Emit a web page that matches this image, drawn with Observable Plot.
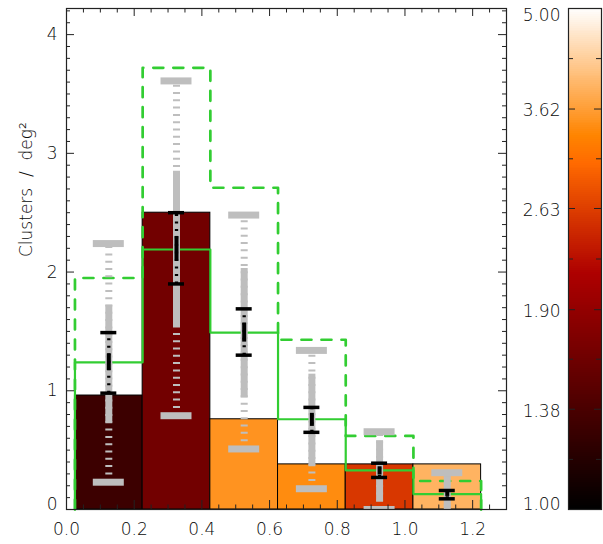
<!DOCTYPE html>
<html><head><meta charset="utf-8">
<script src="https://cdn.jsdelivr.net/npm/d3@7"></script>
<script src="https://cdn.jsdelivr.net/npm/@observablehq/plot@0.6"></script>
<style>
body{margin:0;background:#fff;}
#wrap{display:flex;width:603px;height:544px;}
</style></head><body><div id="wrap"></div>
<script>
// ---- data ----
const binStart  = [0.025, 0.225, 0.425, 0.625, 0.825, 1.025];
const binEnd    = [0.225, 0.425, 0.625, 0.825, 1.025, 1.225];
const binCenter = [0.125, 0.325, 0.525, 0.725, 0.925, 1.125];
const barHeights     = [0.96, 2.50, 0.76, 0.38, 0.38, 0.38];
const barColorValues = [1.30, 1.64, 3.49, 3.40, 2.56, 3.88];
const solidHist  = [1.24, 2.19, 1.49, 0.76, 0.33, 0.13];
const dashedHist = [1.95, 3.72, 2.71, 1.43, 0.62, 0.24];
const grayOuterHi = [2.24, 3.61, 2.48, 1.34, 0.655, 0.31];
const grayOuterLo = [0.23, 0.79, 0.51, 0.175, 0.0, -0.04];
const grayInnerHi = [1.72, 2.85, 2.03, 1.14, 0.58, 0.27];
const grayInnerLo = [0.73, 1.54, 0.94, 0.37, 0.07, -0.04];
const blackOuterHi = [1.49, 2.50, 1.69, 0.86, 0.39, 0.16];
const blackOuterLo = [0.98, 1.90, 1.30, 0.65, 0.27, 0.09];
const blackInnerHi = [1.31, 2.30, 1.57, 0.81, 0.36, 0.15];
const blackInnerLo = [1.17, 2.09, 1.41, 0.70, 0.29, 0.11];
const xTickValues = [0.0, 0.2, 0.4, 0.6, 0.8, 1.0, 1.2];
const yTickValues = [0, 1, 2, 3, 4];
const colorbarTicks = [1.00, 1.38, 1.90, 2.63, 3.62, 5.00];
const yLabel = "Clusters\u00a0\u00a0/\u00a0\u00a0deg\u00b2";

// ---- styling ----
const GRAY = "#bebebe", GREEN = "#32cd32", AX = "#222";
const FONT = {fontFamily: '"DejaVu Sans", sans-serif', fontSize: "17px", fontWeight: 200, color: "#0a0a0a", background: "#fff"};

function redTemperature(t) {
  const i = t * 255;
  const r = Math.min(255, i * 255 / 176);
  const g = Math.max(0, Math.min(255, (i - 120) * 255 / 135));
  const b = Math.max(0, Math.min(255, (i - 190) * 255 / 65));
  return `rgb(${Math.round(r)},${Math.round(g)},${Math.round(b)})`;
}
const cMin = colorbarTicks[0], cMax = colorbarTicks[colorbarTicks.length - 1];
const colorOpts = {type: "log", domain: [cMin, cMax], interpolate: redTemperature};

const bins = binStart.map((x0, i) => ({
  x0, x1: binEnd[i], xc: binCenter[i], bar: barHeights[i], c: barColorValues[i],
  goHi: grayOuterHi[i], goLo: grayOuterLo[i], giHi: grayInnerHi[i], giLo: grayInnerLo[i],
  boHi: blackOuterHi[i], boLo: blackOuterLo[i], biHi: blackInnerHi[i], biLo: blackInnerLo[i]
}));
function stepPoints(vals) {
  const pts = [{x: binStart[0], y: 0}];
  vals.forEach((v, i) => pts.push({x: binStart[i], y: v}));
  pts.push({x: binEnd[vals.length - 1], y: vals[vals.length - 1]});
  pts.push({x: binEnd[vals.length - 1], y: 0});
  return pts;
}

const W = 520, H = 544, mL = 66, mR = 14, mT = 8, mB = 35;
const xMax = 1.3, yMax = 4.22;
const pw = W - mL - mR, ph = H - mT - mB;
const grayHalf = 15.5 / pw * xMax, blackHalf = 8 / pw * xMax;
const yMinor = d3.range(0, yMax, 0.1).map(v => +v.toFixed(2)).filter(v => Math.abs(v - Math.round(v)) > 1e-6);
const xMinor = d3.range(0, xMax + 1e-9, 0.05).map(v => +v.toFixed(2)).filter(v => Math.abs(v * 5 - Math.round(v * 5)) > 1e-6);
const xMajor = d3.range(0, xMax + 1e-9, 0.2).map(v => +v.toFixed(2));

const main = Plot.plot({
  width: W, height: H, marginLeft: mL, marginRight: mR, marginTop: mT, marginBottom: mB,
  style: FONT,
  x: {domain: [0, xMax]},
  y: {domain: [0, yMax]},
  color: colorOpts,
  marks: [
    Plot.rect(bins, {x1: "x0", x2: "x1", y1: () => 0, y2: "bar", fill: "c", stroke: "black", strokeWidth: 1}),
    Plot.line(stepPoints(dashedHist), {x: "x", y: "y", curve: "step-after", stroke: GREEN, strokeWidth: 2.7, strokeDasharray: "10,10"}),
    Plot.line(stepPoints(solidHist), {x: "x", y: "y", curve: "step-after", stroke: GREEN, strokeWidth: 2.2}),
    Plot.ruleX(bins, {x: "xc", y1: "goLo", y2: "goHi", stroke: GRAY, strokeWidth: 7, strokeDasharray: "2,5.3", clip: true}),
    Plot.ruleX(bins, {x: "xc", y1: "giLo", y2: "giHi", stroke: GRAY, strokeWidth: 7, clip: true}),
    Plot.ruleY(bins, {y: "goHi", x1: d => d.xc - grayHalf, x2: d => d.xc + grayHalf, stroke: GRAY, strokeWidth: 7}),
    Plot.ruleY(bins, {y: "goLo", x1: d => d.xc - grayHalf, x2: d => d.xc + grayHalf, stroke: GRAY, strokeWidth: 7, clip: true}),
    Plot.ruleX(bins, {x: "xc", y1: "boLo", y2: "boHi", stroke: "black", strokeWidth: 3.3, strokeDasharray: "2,5.5"}),
    Plot.ruleX(bins, {x: "xc", y1: "biLo", y2: "biHi", stroke: "black", strokeWidth: 4}),
    Plot.ruleY(bins, {y: "boHi", x1: d => d.xc - blackHalf, x2: d => d.xc + blackHalf, stroke: "black", strokeWidth: 3.5}),
    Plot.ruleY(bins, {y: "boLo", x1: d => d.xc - blackHalf, x2: d => d.xc + blackHalf, stroke: "black", strokeWidth: 3.5}),
    Plot.frame({stroke: AX, strokeWidth: 1.2}),
    // inward ticks on all four sides
    Plot.tickY(yTickValues, {y: d => d, insetRight: pw - 8, stroke: AX}),
    Plot.tickY(yTickValues, {y: d => d, insetLeft: pw - 8, stroke: AX}),
    Plot.tickY(yMinor, {y: d => d, insetRight: pw - 4, stroke: AX}),
    Plot.tickY(yMinor, {y: d => d, insetLeft: pw - 4, stroke: AX}),
    Plot.tickX(xMajor, {x: d => d, insetTop: ph - 9, stroke: AX}),
    Plot.tickX(xMajor, {x: d => d, insetBottom: ph - 8, stroke: AX}),
    Plot.tickX(xMinor, {x: d => d, insetTop: ph - 4.5, stroke: AX}),
    Plot.tickX(xMinor, {x: d => d, insetBottom: ph - 4.5, stroke: AX}),
    Plot.axisX({ticks: xTickValues, tickSize: 0, tickPadding: 13, tickFormat: d3.format(".1f"), label: null}),
    Plot.axisY({ticks: yTickValues.slice(1), tickSize: 0, tickPadding: 9, tickFormat: d3.format("d"), label: null}),
    Plot.axisY({ticks: yTickValues.slice(0, 1), tickSize: 0, tickPadding: 9, tickFormat: d3.format("d"), dy: -5, label: null}),
    Plot.text([yLabel], {text: d => d, frameAnchor: "left", rotate: -90, dx: -40, dy: -2})
  ]
});

// ---- colour bar ----
const N = 256, cbW = 83, cbL = 48, cbR = 2, barW = cbW - cbL - cbR;
const lc = Math.log(cMax / cMin);
const slices = d3.range(N).map(k => ({
  lo: cMin * Math.exp(lc * k / N), hi: cMin * Math.exp(lc * (k + 1) / N), mid: cMin * Math.exp(lc * (k + 0.5) / N)
}));
const nT = colorbarTicks.length - 1;
const cbMinor = d3.range(nT).map(k => cMin * Math.exp(lc * (k + 0.5) / nT));
const fmt = d3.format(".2f");
const cbar = Plot.plot({
  width: cbW, height: H, marginLeft: cbL, marginRight: cbR, marginTop: mT, marginBottom: mB,
  style: FONT,
  x: {domain: [0, 1], axis: null},
  y: {type: "log", domain: [cMin, cMax], axis: null},
  color: colorOpts,
  marks: [
    Plot.rect(slices, {x1: () => 0, x2: () => 1, y1: "lo", y2: "hi", fill: "mid", shapeRendering: "crispEdges"}),
    Plot.frame({stroke: AX, strokeWidth: 1.2}),
    Plot.tickY(colorbarTicks, {y: d => d, insetRight: barW - 7, stroke: AX}),
    Plot.tickY(colorbarTicks, {y: d => d, insetLeft: barW - 7, stroke: AX}),
    Plot.tickY(cbMinor, {y: d => d, insetRight: barW - 5, stroke: AX}),
    Plot.tickY(cbMinor, {y: d => d, insetLeft: barW - 5, stroke: AX}),
    Plot.text(colorbarTicks.slice(-1), {y: d => d, text: d => fmt(d), frameAnchor: "left", dx: -8, textAnchor: "end", lineAnchor: "top"}),
    Plot.text(colorbarTicks.slice(1, -1), {y: d => d, text: d => fmt(d), frameAnchor: "left", dx: -8, dy: 2, textAnchor: "end"}),
    Plot.text(colorbarTicks.slice(0, 1), {y: d => d, text: d => fmt(d), frameAnchor: "left", dx: -8, textAnchor: "end", lineAnchor: "bottom"})
  ]
});

const wrap = document.getElementById("wrap");
wrap.appendChild(main);
wrap.appendChild(cbar);
</script>
</body></html>
